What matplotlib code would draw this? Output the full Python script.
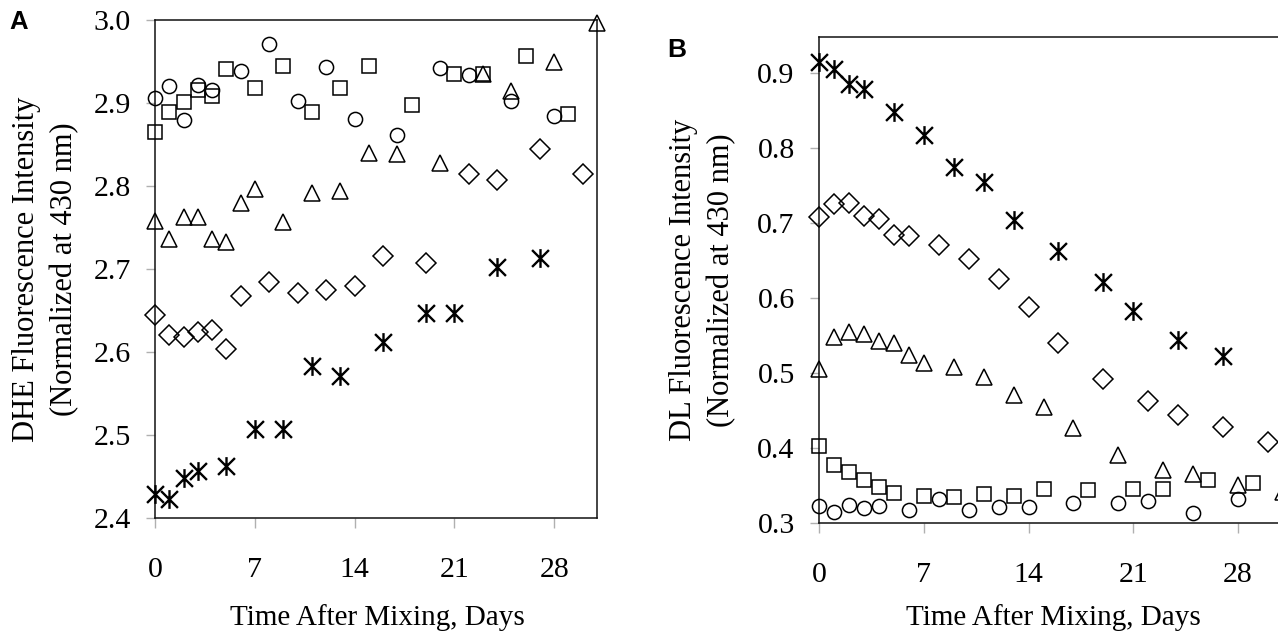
import numpy as np
import matplotlib
matplotlib.use("Agg")
import matplotlib.pyplot as plt
from matplotlib.path import Path

# ---------------- data ----------------
# Panel A : DHE fluorescence
a_circle_x = [0, 1, 2, 3, 4, 6, 8, 10, 12, 14, 17, 20, 22, 25, 28]
a_circle_y = [2.906, 2.920, 2.879, 2.922, 2.916, 2.939, 2.971, 2.903, 2.943, 2.881, 2.861, 2.942, 2.934, 2.902, 2.884]

a_square_x = [0, 1, 2, 3, 4, 5, 7, 9, 11, 13, 15, 18, 21, 23, 26, 29]
a_square_y = [2.865, 2.889, 2.901, 2.916, 2.909, 2.941, 2.918, 2.945, 2.889, 2.918, 2.945, 2.898, 2.935, 2.935, 2.957, 2.887]

a_tri_x = [0, 1, 2, 3, 4, 5, 6, 7, 9, 11, 13, 15, 17, 20, 23, 25, 28, 31]
a_tri_y = [2.758, 2.736, 2.763, 2.763, 2.736, 2.733, 2.780, 2.796, 2.757, 2.791, 2.794, 2.840, 2.839, 2.828, 2.935, 2.914, 2.950, 2.996]

a_dia_x = [0, 1, 2, 3, 4, 5, 6, 8, 10, 12, 14, 16, 19, 22, 24, 27, 30]
a_dia_y = [2.644, 2.620, 2.618, 2.624, 2.627, 2.604, 2.668, 2.684, 2.671, 2.675, 2.680, 2.716, 2.707, 2.814, 2.807, 2.845, 2.814]

a_star_x = [0, 1, 2, 3, 5, 7, 9, 11, 13, 16, 19, 21, 24, 27]
a_star_y = [2.429, 2.423, 2.448, 2.457, 2.463, 2.507, 2.507, 2.583, 2.571, 2.612, 2.647, 2.647, 2.703, 2.713]

# Panel B : DL fluorescence
b_star_x = [0, 1, 2, 3, 5, 7, 9, 11, 13, 16, 19, 21, 24, 27]
b_star_y = [0.914, 0.905, 0.885, 0.879, 0.848, 0.818, 0.775, 0.754, 0.704, 0.662, 0.621, 0.583, 0.544, 0.523]

b_dia_x = [0, 1, 2, 3, 4, 5, 6, 8, 10, 12, 14, 16, 19, 22, 24, 27, 30]
b_dia_y = [0.708, 0.725, 0.726, 0.709, 0.706, 0.684, 0.683, 0.671, 0.652, 0.625, 0.588, 0.540, 0.492, 0.462, 0.444, 0.428, 0.408]

b_tri_x = [0, 1, 2, 3, 4, 5, 6, 7, 9, 11, 13, 15, 17, 20, 23, 25, 28, 31]
b_tri_y = [0.505, 0.548, 0.554, 0.552, 0.543, 0.540, 0.524, 0.513, 0.508, 0.494, 0.470, 0.454, 0.426, 0.390, 0.371, 0.365, 0.351, 0.341]

b_square_x = [0, 1, 2, 3, 4, 5, 7, 9, 11, 13, 15, 18, 21, 23, 26, 29]
b_square_y = [0.402, 0.377, 0.368, 0.357, 0.348, 0.340, 0.336, 0.335, 0.339, 0.336, 0.345, 0.344, 0.346, 0.346, 0.357, 0.353]

b_circle_x = [0, 1, 2, 3, 4, 6, 8, 10, 12, 14, 17, 20, 22, 25, 28]
b_circle_y = [0.322, 0.315, 0.324, 0.320, 0.322, 0.318, 0.332, 0.318, 0.321, 0.321, 0.326, 0.326, 0.329, 0.314, 0.332]

x_ticks = [0, 7, 14, 21, 28]
a_yticks = [2.4, 2.5, 2.6, 2.7, 2.8, 2.9, 3.0]
b_yticks = [0.3, 0.4, 0.5, 0.6, 0.7, 0.8, 0.9]

x_title = "Time After Mixing, Days"
a_ytitle = ["DHE Fluorescence Intensity", "(Normalized at 430 nm)"]
b_ytitle = ["DL Fluorescence Intensity", "(Normalized at 430 nm)"]

# ---------------- style ----------------
serif = ["Liberation Serif", "DejaVu Serif"]
plt.rcParams["font.family"] = serif
FS = 21.5
FS_X = 21
FS_Y = 22

star_path = Path(
    [(0, -1), (0, 1), (-0.9, -0.9), (0.9, 0.9), (-0.9, 0.9), (0.9, -0.9)],
    [Path.MOVETO, Path.LINETO, Path.MOVETO, Path.LINETO, Path.MOVETO, Path.LINETO],
)

W, H = 1278, 637
fig = plt.figure(figsize=(W / 100, H / 100), dpi=100)


def px_axes(l, t, r, b):
    return fig.add_axes([l / W, 1 - b / H, (r - l) / W, (b - t) / H])


axA = px_axes(155, 20, 597, 518)
axB = px_axes(819, 37, 1283, 523)

common = dict(linestyle="none", markerfacecolor="none", markeredgecolor="black",
              markeredgewidth=1.1, clip_on=False, zorder=3)


def draw(ax, cx, cy, sx, sy, tx, ty, dx, dy, stx, sty):
    ax.plot(cx, cy, marker="o", markersize=10.2, **common)
    ax.plot(sx, sy, marker="s", markersize=10.2, **common)
    ax.plot(tx, ty, marker="^", markersize=11, **common)
    ax.plot(dx, dy, marker="D", markersize=10, **common)
    ax.plot(stx, sty, marker=star_path, markersize=13.5,
            linestyle="none", color="black", markeredgewidth=1.7, clip_on=False, zorder=3)


draw(axA, a_circle_x, a_circle_y, a_square_x, a_square_y, a_tri_x, a_tri_y,
     a_dia_x, a_dia_y, a_star_x, a_star_y)
draw(axB, b_circle_x, b_circle_y, b_square_x, b_square_y, b_tri_x, b_tri_y,
     b_dia_x, b_dia_y, b_star_x, b_star_y)

axA.set_xlim(0, 31)
axA.set_ylim(2.4, 3.0)
axB.set_xlim(0, 31)
axB.set_ylim(0.3, 0.3 + 486 / 750)

for ax, yt in [(axA, a_yticks), (axB, b_yticks)]:
    ax.set_xticks(x_ticks)
    ax.set_xticklabels([str(v) for v in x_ticks])
    ax.set_yticks(yt)
    ax.set_yticklabels([f"{v:.1f}" for v in yt])
    for s in ax.spines.values():
        s.set_color("#111111")
        s.set_linewidth(1.1)
    ax.tick_params(axis="x", direction="out", length=7, width=1.0, color="#b0b0b0",
                   labelsize=FS, pad=21)
    ax.tick_params(axis="y", direction="out", length=6.5, width=1.0, color="#b0b0b0",
                   labelsize=FS, pad=11)


def ptext(x, y, s, **kw):
    fig.text(x / W, 1 - y / H, s, **kw)


# axis titles (placed in pixel positions of the reference)
ptext(377, 618, x_title, fontsize=FS_X, ha="center", va="center")
ptext(1053, 618, x_title, fontsize=FS_X, ha="center", va="center")
ptext(27, 269, a_ytitle[0], fontsize=FS_Y, rotation=90, ha="center", va="center")
ptext(65, 269, a_ytitle[1], fontsize=FS_Y, rotation=90, ha="center", va="center")
ptext(684, 280, b_ytitle[0], fontsize=FS_Y, rotation=90, ha="center", va="center")
ptext(722, 280, b_ytitle[1], fontsize=FS_Y, rotation=90, ha="center", va="center")

# panel letters
ptext(9, 10, "A", fontsize=18.5, fontweight="bold",
      family=["Liberation Sans", "DejaVu Sans"], ha="left", va="top")
ptext(667, 38, "B", fontsize=19, fontweight="bold",
      family=["Liberation Sans", "DejaVu Sans"], ha="left", va="top")

fig.savefig("out.png", dpi=100)
